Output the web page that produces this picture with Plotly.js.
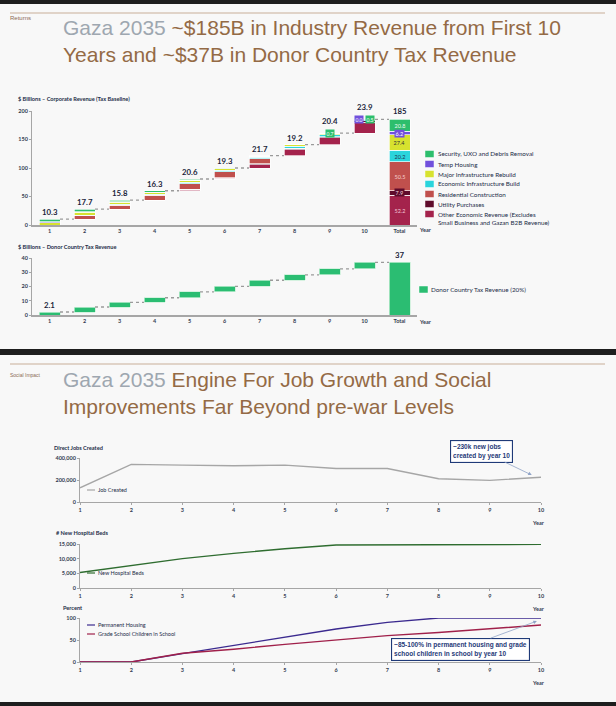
<!DOCTYPE html>
<html><head><meta charset="utf-8">
<script src="https://cdn.plot.ly/plotly-3.0.1.min.js"></script>
<style>html,body{margin:0;padding:0;background:#1e1e1e;}#chart{width:616px;height:706px;}</style>
</head><body><div id="chart"></div>
<script>
// ---------------- data ----------------
const yearLabels = ['1','2','3','4','5','6','7','8','9','10'];
const totalLabel = 'Total';
const seriesNames = [
  'Other Economic Revenue (Excludes<br>Small Business and Gazan B2B Revenue)',
  'Utility Purchases',
  'Residential Construction',
  'Economic Infrastructure Build',
  'Major Infrastructure Rebuild',
  'Temp Housing',
  'Security, UXO and Debris Removal'
];
const otherEconomic = [0, 0, 0, 0, 2.5, 1.6, 6.0, 10.7, 12.5, 18.9];
const utility       = [0, 0, 0, 0, 0, 1.0, 1.2, 1.5, 1.5, 2.7];
const residential   = [0, 6.0, 6.5, 8.0, 10.0, 10.5, 8.7, 0.5, 0.3, 0];
const econInfra     = [0, 1.0, 1.5, 1.8, 2.5, 2.5, 3.0, 3.5, 2.9, 1.5];
const majorInfra    = [3.8, 4.7, 3.6, 3.0, 3.0, 2.0, 2.0, 2.5, 2.5, 0.3];
const tempHousing   = [1.5, 1.5, 1.2, 1.0, 0.6, 0.4, null, null, null, 0.0];
const security      = [5.0, 4.5, 3.0, 2.5, 2.0, 1.3, 0.8, 0.5, 0.7, 0.5];
const totalBreakdown = [52.2, 7.9, 50.5, 20.2, 27.4, 6.2, 20.8];
const yearTotals = [10.3, 17.7, 15.8, 16.3, 20.6, 19.3, 21.7, 19.2, 20.4, 23.9];
const grandTotalLabel = '185';

const donorName = 'Donor Country Tax Revenue (20%)';
const donorYears = [2.1, 3.5, 3.2, 3.3, 4.1, 3.9, 4.3, 3.8, 4.1, 4.7];
const donorTotal = 37;

const lineYears = [1,2,3,4,5,6,7,8,9,10];
const jobsCreated = [129000, 342000, 335000, 329000, 335000, 305000, 305000, 212000, 197000, 225000];
const hospitalBeds = [5300, 7700, 10000, 11800, 13400, 14650, 14650, 14650, 14770, 14880];
const permanentHousing = [0, 0, 19, 38, 56, 75, 90, 100, 100, 100];
const gradeSchool = [0, 0, 20, 29, 40, 50, 60, 67, 76, 84];

// ---------------- styles ----------------
const W = 616, H = 706;
const px = v => v / W, py = v => 1 - v / H;
const seriesColors = ['#A4234C','#5E0B2B','#C0504D','#2AD4DC','#D7E22F','#7150DC','#2DBE6C'];
const totalTextColors = ['#f3c9d6','#f5d9e0','#f6d0cf','#1f3350','#333333','#ffffff','#eafaf1'];
const donorColor = '#2BBD72';
const FONT = 'Lato, "Open Sans", sans-serif';
const TITLEFONT = '"Liberation Sans", Arial, sans-serif';
const navy = '#1f3a78';
const tickFont = {family: FONT, size: 5.5, color: '#333b50', weight: 'bold'};
const labelColor = '#232d48';

const seriesData = [otherEconomic, utility, residential, econInfra, majorInfra, tempHousing, security];
const nY = yearLabels.length;
const xIdx = [...Array(nY + 1).keys()];

function cumulative(arr) { const out = []; let c = 0; arr.forEach(v => { c += v; out.push(+c.toFixed(2)); }); return out; }
const cumAfter = cumulative(yearTotals);
const cumBefore = cumAfter.map((v, i) => i ? cumAfter[i - 1] : 0);
const dCumAfter = cumulative(donorYears);
const dCumBefore = dCumAfter.map((v, i) => i ? dCumAfter[i - 1] : 0);

const traces = [];
const BW = 0.6;
traces.push({type:'bar', x:xIdx, y:[...cumBefore, 0], width:BW, marker:{color:'rgba(0,0,0,0)', line:{width:0}}, hoverinfo:'skip', xaxis:'x', yaxis:'y'});
seriesData.forEach((arr, k) => {
  traces.push({type:'bar', name:seriesNames[k], x:xIdx, y:[...arr.map(v => v == null ? 0 : v), totalBreakdown[k]], width:BW,
    marker:{color:seriesColors[k], line:{color:'rgba(255,255,255,0.85)', width:0.8}}, xaxis:'x', yaxis:'y'});
});
function connectors(cum, xa, ya) {
  const x = [], y = [];
  cum.forEach((v, i) => { x.push(i + BW / 2, i + 1 - BW / 2, null); y.push(v, v, null); });
  return {type:'scatter', mode:'lines', x, y, line:{color:'#9a9a9a', width:1.3, dash:'dot'}, hoverinfo:'skip', xaxis:xa, yaxis:ya};
}
traces.push(connectors(cumAfter, 'x', 'y'));
traces.push({type:'bar', x:xIdx, y:[...dCumBefore, 0], width:BW, marker:{color:'rgba(0,0,0,0)', line:{width:0}}, hoverinfo:'skip', xaxis:'x2', yaxis:'y2'});
traces.push({type:'bar', name:donorName, x:xIdx, y:[...donorYears, donorTotal], width:BW,
  marker:{color:donorColor, line:{color:'rgba(200,240,215,0.9)', width:0.8}}, xaxis:'x2', yaxis:'y2'});
traces.push(connectors(dCumAfter, 'x2', 'y2'));
traces.push({type:'scatter', mode:'lines', x:lineYears, y:jobsCreated, line:{color:'#a6a6a6', width:1.4}, cliponaxis:false, xaxis:'x3', yaxis:'y3'});
traces.push({type:'scatter', mode:'lines', x:lineYears, y:hospitalBeds, line:{color:'#2f6d30', width:1.4}, cliponaxis:false, xaxis:'x4', yaxis:'y4'});
traces.push({type:'scatter', mode:'lines', x:lineYears, y:permanentHousing, line:{color:'#3b2a8f', width:1.4}, cliponaxis:false, xaxis:'x5', yaxis:'y5'});
traces.push({type:'scatter', mode:'lines', x:lineYears, y:gradeSchool, line:{color:'#a0204a', width:1.4}, cliponaxis:false, xaxis:'x5', yaxis:'y5'});

// ---------------- annotations ----------------
const ann = [];
const txt = (x, y, text, o = {}) => Object.assign({xref:'paper', yref:'paper', x:px(x), y:py(y), text, showarrow:false,
  xanchor:'left', yanchor:'middle', font:{family:FONT, size:5.5, color:labelColor}}, o);

const grey = '#9ea7b0', brown = '#946a45';
ann.push(txt(8, 18, 'Returns', {font:{family:TITLEFONT, size:6, color:'#8b6b55'}}));
ann.push(txt(61, 41, '<span style="color:' + grey + '">Gaza 2035</span> ~$185B in Industry Revenue from First 10<br>Years and ~$37B in Donor Country Tax Revenue',
  {align:'left', font:{family:TITLEFONT, size:21, color:brown}}));
ann.push(txt(8, 375, 'Social Impact', {font:{family:TITLEFONT, size:5, color:'#8b6b55'}}));
ann.push(txt(61, 393, '<span style="color:' + grey + '">Gaza 2035</span> Engine For Job Growth and Social<br>Improvements Far Beyond pre-war Levels',
  {align:'left', font:{family:TITLEFONT, size:21, color:brown}}));

const axTitleFont = {family:FONT, size:5.6, color:labelColor, weight:'bold'};
ann.push(txt(16, 99, '$ Billions – Corporate Revenue (Tax Baseline)', {font:axTitleFont}));
ann.push(txt(16, 246, '$ Billions – Donor Country Tax Revenue', {font:axTitleFont}));
ann.push(txt(52, 447, 'Direct Jobs Created', {font:axTitleFont}));
ann.push(txt(54, 532, '# New Hospital Beds', {font:axTitleFont}));
ann.push(txt(61, 607, 'Percent', {font:axTitleFont}));
[[425,230],[425,322],[538,523],[538,609],[538,683]].forEach(p => ann.push(txt(p[0], p[1], 'Year', {xanchor:'center', font:tickFont})));

const secIdx = 6, tempIdx = 5;
yearLabels.forEach((lab, i) => {
  const smalls = [];
  if (i >= nY - 2) {
    [tempIdx, secIdx].forEach(k => { if (seriesData[k][i] != null) smalls.push(k); });
  }
  ann.push({xref:'x', yref:'y', x:i, y:cumAfter[i], yanchor:'bottom', yshift: smalls.length ? 5 : 0, showarrow:false,
    text:yearTotals[i].toFixed(1), font:{family:FONT, size:7.8, color:'#1b1f3b', weight:'bold'}});
  smalls.forEach((k, j) => {
    ann.push({xref:'x', yref:'y', x:i, y:cumAfter[i] - seriesData[k][i] / 2, showarrow:false,
      xshift: smalls.length > 1 ? (j ? 5 : -5.5) : 0, text:seriesData[k][i].toFixed(1), bgcolor:seriesColors[k], borderpad:0.5,
      font:{family:FONT, size:5, color:'#ffffff'}});
  });
});
let tc = 0;
totalBreakdown.forEach((v, k) => {
  ann.push({xref:'x', yref:'y', x:nY, y:tc + v / 2, showarrow:false, text:v.toFixed(1), bgcolor:seriesColors[k], borderpad:0.5,
    font:{family:FONT, size:5.5, color:totalTextColors[k]}});
  tc += v;
});
ann.push({xref:'x', yref:'y', x:nY, y:tc, yanchor:'bottom', yshift:1, showarrow:false, text:grandTotalLabel,
  font:{family:FONT, size:7.8, color:'#1b1f3b', weight:'bold'}});
ann.push({xref:'x2', yref:'y2', x:0, y:dCumAfter[0], yanchor:'bottom', showarrow:false, text:donorYears[0].toFixed(1),
  font:{family:FONT, size:7.8, color:'#1b1f3b', weight:'bold'}});
ann.push({xref:'x2', yref:'y2', x:nY, y:donorTotal, yanchor:'bottom', showarrow:false, text:String(donorTotal),
  font:{family:FONT, size:7.8, color:'#1b1f3b', weight:'bold'}});

const shapes = [];
const legendRows = [6,5,4,3,2,1,0];
const legFont = {family:FONT, size:6.3, color:labelColor};
legendRows.forEach((k, r) => {
  const cy = 154 + 10 * r;
  shapes.push({type:'rect', xref:'paper', yref:'paper', x0:px(425), x1:px(434), y0:py(cy + 3.5), y1:py(cy - 3.5),
    fillcolor:seriesColors[k], line:{color:'rgba(255,255,255,0.8)', width:0.6}});
  const lines = seriesNames[k].split('<br>').length;
  ann.push(txt(436, cy + (lines - 1) * 4.1, seriesNames[k], {align:'left', font:legFont}));
});
shapes.push({type:'rect', xref:'paper', yref:'paper', x0:px(419), x1:px(428), y0:py(293), y1:py(286),
  fillcolor:donorColor, line:{color:'rgba(255,255,255,0.8)', width:0.6}});
ann.push(txt(429, 289.5, donorName, {font:legFont}));

const lineLegend = [[490,'Job Created','#a6a6a6'],[573,'New Hospital Beds','#2f6d30'],[625,'Permanent Housing','#3b2a8f'],[634,'Grade School Children in School','#a0204a']];
lineLegend.forEach(l => {
  shapes.push({type:'line', xref:'paper', yref:'paper', x0:px(87), x1:px(95), y0:py(l[0]), y1:py(l[0]), line:{color:l[2], width:1.2}});
  ann.push(txt(96, l[0], l[1], {font:{family:FONT, size:5.5, color:labelColor}}));
});

const callout = (xa, ya, x, y, ax, ay, text, extra = {}) => Object.assign({xref:xa, yref:ya, x, y, ax, ay, axref:'pixel', ayref:'pixel',
  text, showarrow:true, arrowhead:2, arrowsize:0.9, arrowwidth:0.8, arrowcolor:'#8fa3c7', align:'left',
  bgcolor:'#ffffff', bordercolor:navy, borderwidth:1.1, borderpad:2,
  font:{family:TITLEFONT, size:6.5, color:navy, weight:'bold'}}, extra);
ann.push(callout('x3', 'y3', 9.82, 245000, -50, -24, '~230k new jobs<br>created by year 10'));
ann.push(callout('x4', 'y4', 9.92, 15300, -56, -16, '~13k new hospital<br>beds by year 10', {width:72}));
ann.push(callout('x5', 'y5', 9.92, 93, -76, 28, '~85-100% in permanent housing and grade<br>school children in school by year 10'));

shapes.unshift(
  {type:'rect', xref:'paper', yref:'paper', x0:0, x1:1, y0:py(349), y1:py(4), fillcolor:'#f8f8f8', line:{width:0}, layer:'below'},
  {type:'rect', xref:'paper', yref:'paper', x0:0, x1:1, y0:py(702), y1:py(355), fillcolor:'#f8f8f8', line:{width:0}, layer:'below'},
  {type:'line', xref:'paper', yref:'paper', x0:px(10), x1:px(605), y0:py(13), y1:py(13), line:{color:'#c7ae97', width:1.1}, layer:'below'},
  {type:'line', xref:'paper', yref:'paper', x0:px(10), x1:px(605), y0:py(364), y1:py(364), line:{color:'#c7ae97', width:1.1}, layer:'below'}
);

// ---------------- axes ----------------
const catTicks = {tickmode:'array', tickvals:xIdx, ticktext:[...yearLabels, totalLabel]};
const xBar = (anchor) => Object.assign({domain:[px(32), px(417)], range:[-0.5, nY + 0.5], anchor, showline:true, linecolor:'#a6a6a6', linewidth:1.5,
  ticks:'', showgrid:false, zeroline:false, tickfont:tickFont, fixedrange:true}, catTicks);
const yAx = (d0, d1, range, tickvals, anchor, fmt) => ({domain:[py(d0), py(d1)], range, tickvals, tickmode:'array', anchor,
  showline:true, linecolor:'#a6a6a6', linewidth:1, ticks:'outside', ticklen:2, tickcolor:'#a6a6a6', showgrid:false, zeroline:false,
  tickfont:tickFont, tickformat:fmt || '', fixedrange:true});
const xLine = (anchor) => ({domain:[px(80), px(541)], range:[1, 10], anchor, tickmode:'array', tickvals:lineYears,
  showline:true, linecolor:'#a6a6a6', linewidth:1, ticks:'outside', ticklen:2, tickcolor:'#a6a6a6', showgrid:false, zeroline:false,
  tickfont:tickFont, fixedrange:true});

const layout = {
  width:W, height:H, margin:{l:0, r:0, t:0, b:0}, paper_bgcolor:'#1e1e1e', plot_bgcolor:'rgba(0,0,0,0)',
  showlegend:false, barmode:'stack', font:{family:FONT},
  xaxis:xBar('y'), yaxis:yAx(225, 111, [0, 200], [0, 50, 100, 150, 200], 'x'),
  xaxis2:xBar('y2'), yaxis2:yAx(315, 258, [0, 40], [0, 10, 20, 30, 40], 'x2'),
  xaxis3:xLine('y3'), yaxis3:yAx(502, 458, [0, 400000], [0, 200000, 400000], 'x3', ','),
  xaxis4:xLine('y4'), yaxis4:yAx(588, 544, [0, 15000], [0, 5000, 10000, 15000], 'x4', ','),
  xaxis5:xLine('y5'), yaxis5:yAx(662, 618, [0, 100], [0, 50, 100], 'x5'),
  annotations:ann, shapes
};
Plotly.newPlot('chart', traces, layout, {displayModeBar:false, staticPlot:true});
</script></body></html>
